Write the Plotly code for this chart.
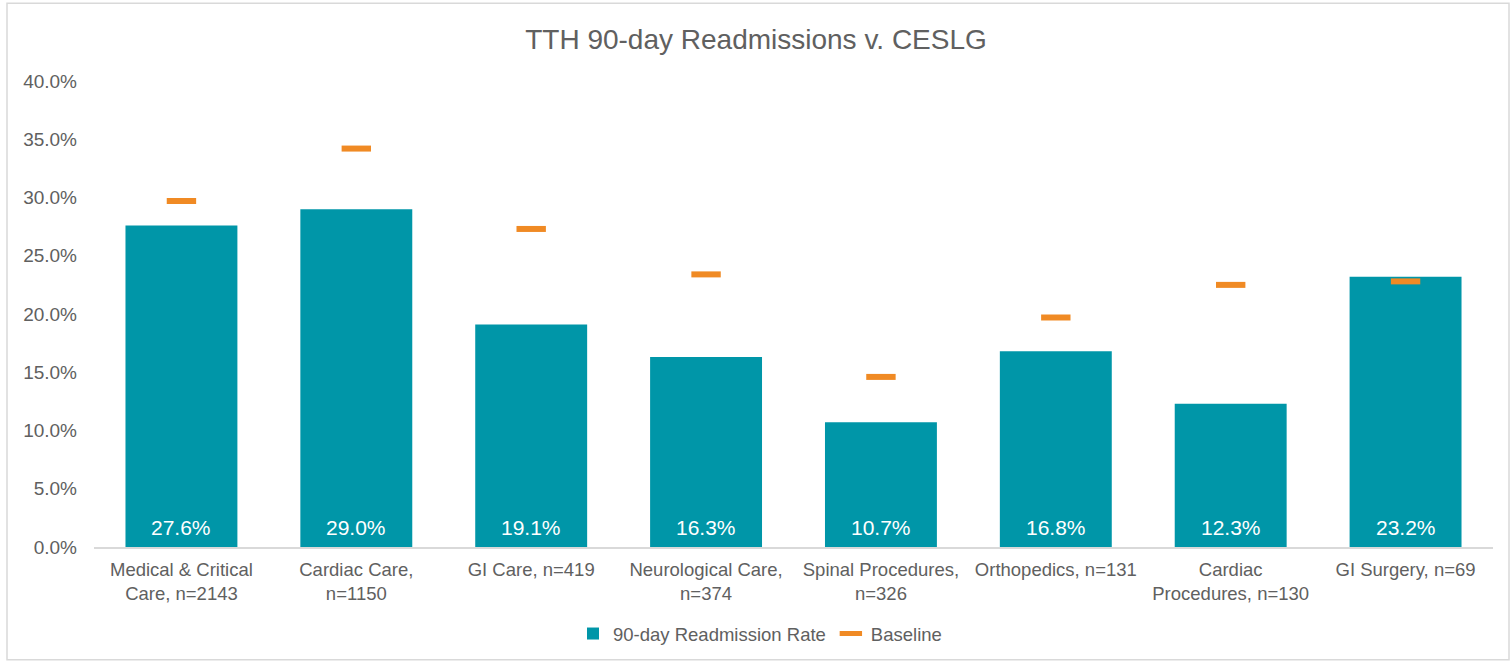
import plotly.graph_objects as go

categories = [
    "Medical & Critical<br>Care, n=2143",
    "Cardiac Care,<br>n=1150",
    "GI Care, n=419",
    "Neurological Care,<br>n=374",
    "Spinal Procedures,<br>n=326",
    "Orthopedics, n=131",
    "Cardiac<br>Procedures, n=130",
    "GI Surgery, n=69",
]
readmission_rate = [27.6, 29.0, 19.1, 16.3, 10.7, 16.8, 12.3, 23.2]
baseline = [29.7, 34.2, 27.3, 23.4, 14.6, 19.7, 22.5, 22.8]
tick_vals = [0, 5, 10, 15, 20, 25, 30, 35, 40]
tick_text = ["0.0%", "5.0%", "10.0%", "15.0%", "20.0%", "25.0%", "30.0%", "35.0%", "40.0%"]

W, H = 1512, 664
ML, MR, MT, MB = 94, 19, 81, 116
PW, PH = W - ML - MR, H - MT - MB

FONT = "Liberation Sans, Arial, sans-serif"
GRAY = "#606060"
TEAL = "#0096A8"
ORANGE = "#F08A24"

fig = go.Figure()
fig.add_trace(go.Bar(
    x=categories, y=readmission_rate, name="90-day Readmission Rate",
    marker=dict(color=TEAL, line=dict(width=0)),
))
fig.add_trace(go.Scatter(
    x=categories, y=baseline, name="Baseline", mode="markers",
    marker=dict(symbol="line-ew", size=21, color=ORANGE,
                line=dict(color=ORANGE, width=6)),
))

for c, v in zip(categories, readmission_rate):
    fig.add_annotation(x=c, y=0, text=f"{v:.1f}%", showarrow=False,
                       yanchor="middle", yshift=20,
                       font=dict(family=FONT, size=21, color="white"))

# outer chart border
fig.add_shape(type="rect", xref="paper", yref="paper",
              x0=(7 - ML) / PW, x1=(1509 - ML) / PW,
              y0=-(661 - MT - PH) / PH, y1=1 + (MT - 3) / PH,
              line=dict(color="#D9D9D9", width=1.5), fillcolor="rgba(0,0,0,0)", layer="below")

fig.update_layout(
    width=W, height=H,
    margin=dict(l=ML, r=MR, t=MT, b=MB),
    paper_bgcolor="white", plot_bgcolor="white",
    title=dict(text="TTH 90-day Readmissions v. CESLG", x=0.5, xanchor="center",
               y=1 - 39 / H, yanchor="middle",
               font=dict(family=FONT, size=28, color=GRAY)),
    font=dict(family=FONT, size=18, color=GRAY),
    bargap=0.36,
    showlegend=True,
    legend=dict(orientation="h", x=(760 - ML) / PW, xanchor="center",
                y=-(634 - MT - PH) / PH, yanchor="middle",
                font=dict(family=FONT, size=18.5, color=GRAY),
                itemwidth=30, tracegroupgap=0),
    xaxis=dict(showline=True, linecolor="#D9D9D9", linewidth=1.5,
               showgrid=False, ticks="", tickfont=dict(size=18.5, color=GRAY),
               ticklabelstandoff=5, fixedrange=True),
    yaxis=dict(range=[0, 40], tickvals=tick_vals, ticktext=tick_text,
               showgrid=False, zeroline=False, showline=False,
               tickfont=dict(size=19, color=GRAY), ticklabelstandoff=16),
)

fig.write_html("out.html", config={"displayModeBar": False},
               post_script="document.body.style.margin='0px';")
